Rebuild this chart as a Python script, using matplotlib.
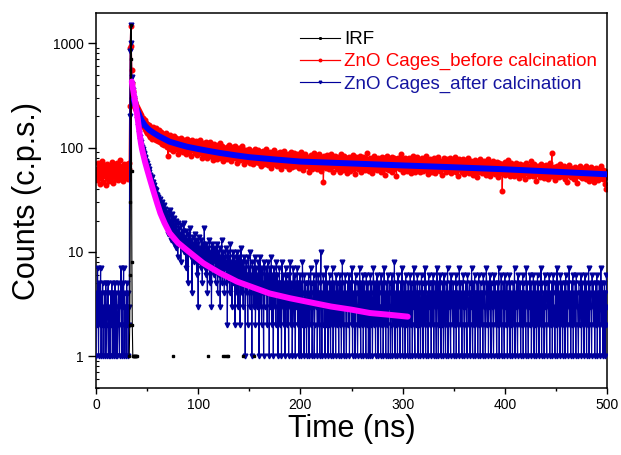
import numpy as np
import matplotlib
matplotlib.use('Agg')
import matplotlib.pyplot as plt
from matplotlib.ticker import LogLocator, FixedLocator, NullFormatter

plt.rcParams['font.family'] = ['Liberation Sans', 'DejaVu Sans']

# ---------------- data ----------------
channel_ns = 0.5  # time per channel (ns), channels start at 0 ns

red_counts = [
    58, 49, 63, 54, 71, 52, 60, 45, 66, 57, 51, 74, 55, 62, 47, 59, 68, 53, 61, 44,
    64, 56, 70, 50, 58, 63, 48, 67, 55, 60, 52, 73, 57, 46, 62, 69, 54, 59, 65, 50,
    61, 56, 72, 49, 58, 64, 53, 76, 57, 51, 60, 67, 48, 63, 55, 70, 58, 52, 66, 61,
    54, 69, 57, 50, 63, 71,
    250, 900, 1450, 950, 560, 420, 350, 310,
    300, 262, 275, 240, 258, 229, 246, 218, 236, 204, 225, 190, 214, 198, 176, 205, 170, 192, 163, 181,
    158, 184, 150, 171, 143, 168, 139, 160, 152, 131, 166, 140, 127, 155, 144, 122, 150, 135, 158, 126,
    146, 121, 139, 154, 118, 133, 142, 115, 137, 127, 149, 112, 131, 120, 141, 108, 128, 136, 117, 133,
    105, 130, 119, 138, 102, 125, 114, 84, 122, 109, 131, 97, 117, 126, 104, 120, 92, 115, 128, 101,
    118, 96, 110, 124, 99, 113, 87, 107, 121, 102, 115, 93, 109, 125, 98, 112, 104, 90, 117, 106,
    95, 114, 101, 86, 110, 120, 97, 105, 91, 116, 100, 108, 83, 103, 119, 94, 107, 98, 112, 88,
    104, 92, 115, 99, 85, 108, 96, 111, 89, 101, 118, 93, 105, 80, 99, 110, 91, 103, 86, 107,
    97, 112, 88, 102, 79, 95, 108, 90, 100, 84, 114, 93, 98, 87, 105, 76, 96, 109, 89, 99,
    83, 102, 94, 78, 107, 89, 97, 85, 111, 91, 80, 99, 87, 104, 75, 93, 100, 86, 95, 82,
    98, 90, 77, 102, 88, 94, 81, 106, 85, 92, 74, 97, 89, 83, 101, 79, 93, 87, 104, 80,
    91, 84, 72, 96, 86, 79, 99, 88, 76, 93, 82, 103, 78, 90, 85, 70, 94, 81, 89, 77,
    95, 83, 74, 90, 86, 79, 98, 72, 88, 81, 93, 76, 85, 69, 91, 84, 78, 96, 80, 87,
    73, 89, 82, 77, 94, 71, 86, 80, 66, 90, 79, 84, 75, 92, 81, 70, 88, 76, 83, 97,
    74, 85, 68, 80, 89, 77, 72, 91, 64, 83, 79, 87, 73, 81, 69, 94, 76, 82, 71, 86,
    78, 67, 88, 74, 83, 70, 90, 76, 63, 81, 85, 72, 79, 68, 92, 75, 80, 66, 84, 77,
    71, 87, 73, 62, 82, 78, 69, 90, 74, 80, 65, 85, 76, 72, 89, 67, 79, 83, 70, 77,
    86, 68, 75, 81, 64, 78, 72, 91, 69, 76, 83, 61, 74, 79, 70, 87, 66, 77, 73, 82,
    67, 80, 75, 58, 78, 71, 85, 69, 76, 63, 82, 73, 88, 66, 74, 79, 70, 84, 62, 77,
    73, 68, 86, 71, 65, 79, 75, 60, 81, 70, 77, 47, 74, 83, 67, 72, 78, 64, 85, 69,
    76, 62, 80, 72, 68, 87, 65, 74, 79, 59, 73, 82, 70, 66, 84, 71, 77, 63, 75, 69,
    81, 67, 74, 58, 78, 72, 86, 64, 71, 76, 61, 83, 69, 75, 66, 80, 73, 57, 77, 70,
    65, 82, 71, 76, 60, 73, 79, 67, 85, 63, 74, 70, 78, 56, 72, 81, 68, 75, 62, 80,
    71, 66, 84, 69, 74, 59, 77, 72, 63, 82, 70, 75, 61, 79, 67, 73, 88, 64, 71, 76,
    60, 74, 69, 80, 65, 72, 57, 78, 68, 75, 63, 83, 70, 66, 76, 61, 73, 79, 67, 71,
    77, 62, 70, 74, 58, 81, 67, 72, 64, 79, 69, 55, 75, 71, 66, 84, 63, 73, 68, 78,
    61, 72, 76, 65, 70, 82, 59, 74, 68, 63, 79, 71, 66, 77, 54, 73, 69, 80, 64, 72,
    75, 62, 68, 86, 66, 71, 58, 77, 69, 73, 63, 80, 67, 72, 60, 76, 65, 70, 79, 61,
    71, 67, 74, 57, 78, 64, 69, 83, 62, 73, 68, 59, 76, 70, 65, 81, 63, 72, 66, 75,
    58, 71, 68, 79, 64, 74, 60, 69, 77, 62, 72, 66, 84, 61, 70, 56, 75, 67, 73, 63,
    78, 65, 70, 59, 74, 68, 62, 80, 66, 71, 57, 76, 64, 69, 73, 61, 82, 67, 63, 72,
    60, 75, 66, 70, 55, 73, 64, 79, 68, 62, 71, 58, 77, 65, 69, 74, 61, 67, 80, 63,
    70, 57, 72, 66, 76, 60, 68, 63, 81, 65, 59, 71, 67, 74, 54, 69, 62, 78, 64, 70,
    66, 73, 58, 68, 62, 77, 65, 56, 71, 67, 60, 75, 63, 69, 79, 57, 66, 72, 61, 68,
    74, 59, 65, 70, 55, 67, 63, 76, 60, 69, 64, 52, 71, 66, 58, 73, 62, 68, 78, 61,
    65, 70, 57, 67, 63, 74, 59, 66, 61, 72, 55, 68, 64, 77, 60, 65, 69, 53, 71, 63,
    58, 67, 62, 75, 60, 66, 56, 70, 64, 59, 73, 61, 68, 52, 65, 71, 57, 63, 69, 60,
    66, 38, 64, 70, 58, 62, 73, 55, 67, 61, 57, 69, 63, 76, 59, 65, 54, 68, 62, 71,
    56, 64, 60, 67, 53, 66, 62, 72, 58, 63, 69, 55, 61, 65, 51, 70, 59, 64, 57, 67,
    62, 55, 68, 60, 64, 50, 66, 58, 71, 61, 57, 63, 67, 54, 60, 65, 59, 74, 56, 62,
    66, 53, 61, 57, 69, 59, 63, 48, 64, 60, 56, 67, 58, 62, 52, 65, 61, 70, 55, 59,
    63, 57, 66, 51, 60, 64, 55, 68, 58, 62, 50, 61, 65, 56, 72, 59, 53, 63, 88, 57,
    60, 54, 65, 58, 62, 49, 61, 57, 67, 55, 59, 64, 52, 60, 56, 70, 58, 53, 63, 57,
    61, 54, 66, 50, 59, 63, 56, 60, 47, 62, 58, 55, 68, 57, 61, 52, 64, 56, 59, 53,
    62, 57, 50, 60, 65, 55, 58, 46, 61, 56, 63, 53, 59, 67, 54, 57, 60, 51, 64, 56,
    52, 59, 62, 55, 66, 50, 58, 61, 54, 57, 48, 63, 56, 60, 53, 65, 57, 51, 59, 62,
    55, 47, 61, 57, 64, 52, 58, 54, 60, 49, 62, 56, 53, 59, 66, 51, 57, 55, 61, 50,
    58, 54, 45, 60, 40, 56, 52,
]

blue_counts = [
    1, 4, 2, 7, 3, 1, 5, 2, 3, 7, 1, 4, 2, 5, 1, 3, 2, 4, 1, 5,
    3, 1, 2, 4, 5, 1, 3, 2, 1, 4, 2, 5, 1, 3, 4, 1, 2, 5, 3, 1,
    4, 2, 1, 3, 5, 2, 1, 4, 3, 7, 2, 1, 5, 3, 7, 1, 4, 2, 3, 1,
    5, 2, 4, 1, 3, 2,
    200, 850, 1500, 1000, 470, 410, 360, 330,
    300, 285, 255, 262, 230, 222, 205, 190, 175, 160, 150, 138, 126, 118, 112, 105, 102, 96, 92, 88,
    86, 80, 82, 74, 70, 72, 64, 66, 60, 58, 62, 53, 55, 50, 48, 52, 45, 47, 43, 41,
    44, 38, 40, 36, 39, 33, 35, 31, 34, 30, 28, 32, 26, 29, 24, 30, 27, 22, 25, 28,
    23, 19, 26, 21, 17, 24, 20, 15, 22, 18, 25, 16, 20, 13, 19, 23, 14, 17, 21, 12,
    18, 15, 11, 20, 14, 16, 9, 19, 13, 17, 12, 15, 8, 18, 14, 11, 16, 13, 19, 10,
    14, 12, 7, 16, 11, 13, 5, 15, 10, 12, 17, 9, 13, 11, 4, 14, 10, 12, 8, 15,
    11, 9, 13, 6, 12, 10, 3, 14, 8, 11, 10, 7, 13, 9, 5, 12, 8, 11, 17, 7,
    10, 6, 12, 8, 4, 11, 9, 7, 13, 5, 10, 8, 3, 12, 7, 9, 6, 11, 8, 10,
    5, 9, 7, 12, 4, 10, 8, 6, 11, 3, 9, 7, 13, 5, 8, 10, 6, 4, 9, 7,
    11, 5, 8, 2, 10, 7, 6, 9, 4, 12, 6, 8, 3, 7, 10, 5, 9, 6, 2, 8,
    7, 4, 10, 6, 3, 9, 5, 8, 2, 7, 11, 4, 6, 8, 3, 9, 5, 7, 1, 6,
    8, 4, 6, 2, 9, 5, 7, 3, 10, 4, 6, 1, 8, 5, 7, 3, 6, 9, 2, 5,
    7, 3, 6, 4, 8, 1, 5, 9, 3, 6, 2, 7, 4, 5, 1, 8, 3, 6, 4, 7,
    5, 2, 8, 4, 6, 1, 7, 3, 5, 9, 2, 6, 4, 1, 7, 5, 3, 6, 2, 8,
    4, 6, 1, 5, 3, 7, 2, 5, 4, 1, 8, 3, 6, 2, 4, 5, 1, 7, 3, 6,
    2, 5, 4, 1, 6, 3, 8, 2, 4, 5, 1, 3, 7, 4, 2, 6, 1, 5, 3, 4,
    7, 2, 5, 1, 4, 6, 3, 1, 5, 2, 8, 4, 3, 1, 6, 2, 5, 4, 1, 3,
    5, 2, 6, 1, 4, 3, 7, 2, 5, 1, 3, 4, 6, 1, 2, 5, 3, 8, 4, 1,
    3, 6, 2, 4, 1, 5, 10, 3, 1, 4, 2, 6, 3, 5, 1, 4, 7, 2, 3, 5,
    1, 4, 2, 6, 3, 1, 5, 2, 4, 7, 1, 3, 5, 2, 4, 1, 6, 3, 2, 5,
    3, 1, 4, 6, 2, 5, 1, 3, 8, 2, 4, 1, 5, 3, 6, 2, 1, 4, 3, 5,
    2, 6, 1, 4, 3, 5, 2, 7, 1, 4, 3, 2, 5, 1, 6, 3, 4, 2, 1, 5,
    4, 2, 7, 3, 1, 5, 2, 4, 6, 1, 3, 5, 2, 4, 1, 6, 3, 2, 5, 1,
    3, 4, 1, 6, 2, 5, 3, 1, 4, 7, 2, 3, 5, 1, 4, 2, 6, 3, 1, 4,
    5, 2, 3, 1, 6, 4, 2, 5, 1, 3, 7, 2, 4, 1, 5, 3, 2, 6, 1, 4,
    3, 5, 1, 2, 4, 6, 1, 3, 5, 2, 8, 1, 4, 3, 2, 5, 1, 6, 3, 2,
    4, 1, 5, 3, 2, 7, 1, 4, 2, 5, 3, 1, 6, 2, 4, 3, 1, 5, 2, 4,
    1, 6, 3, 2, 5, 1, 4, 3, 7, 2, 1, 5, 4, 2, 3, 6, 1, 4, 2, 5,
    3, 1, 4, 6, 2, 5, 1, 3, 4, 2, 7, 1, 5, 3, 2, 4, 1, 6, 3, 5,
    2, 4, 1, 5, 3, 2, 6, 1, 4, 3, 5, 2, 1, 7, 4, 3, 1, 5, 2, 6,
    3, 1, 4, 2, 5, 3, 1, 6, 2, 4, 1, 5, 3, 2, 7, 1, 4, 3, 5, 2,
    1, 6, 3, 4, 2, 5, 1, 3, 4, 2, 6, 1, 5, 3, 2, 4, 1, 7, 3, 5,
    2, 4, 1, 5, 3, 6, 2, 1, 4, 3, 5, 2, 1, 6, 4, 3, 2, 5, 1, 4,
    3, 7, 2, 1, 5, 4, 2, 6, 1, 3, 4, 2, 5, 1, 3, 6, 2, 4, 1, 5,
    3, 2, 4, 1, 6, 3, 5, 2, 1, 4, 7, 3, 2, 5, 1, 4, 3, 6, 2, 1,
    5, 3, 4, 2, 1, 6, 3, 5, 2, 4, 1, 3, 5, 2, 7, 1, 4, 3, 2, 6,
    1, 4, 3, 5, 2, 1, 6, 3, 4, 2, 5, 1, 3, 4, 2, 6, 1, 5, 3, 2,
    4, 1, 5, 3, 2, 7, 1, 4, 3, 5, 2, 1, 6, 3, 4, 2, 5, 1, 3, 4,
    2, 6, 1, 5, 3, 2, 4, 1, 7, 3, 5, 2, 1, 4, 3, 6, 2, 5, 1, 3,
    4, 2, 6, 1, 3, 5, 2, 4, 1, 3, 6, 2, 5, 1, 4, 3, 2, 7, 1, 5,
    3, 2, 4, 1, 6, 3, 5, 2, 1, 4, 3, 5, 2, 6, 1, 4, 3, 2, 5, 1,
    4, 6, 2, 3, 1, 5, 4, 2, 7, 1, 3, 5, 2, 4, 1, 6, 3, 2, 5, 1,
    3, 4, 2, 5, 1, 6, 3, 2, 4, 1, 5, 3, 7, 2, 4, 1, 3, 5, 2, 6,
    1, 4, 3, 2, 5, 1, 6, 3, 4, 2, 1, 5, 3, 2, 4, 6, 1, 3, 5, 2,
    4, 1, 3, 6, 2, 5, 1, 4, 3, 2, 7, 1, 5, 3, 4, 2, 1, 6, 3, 5,
    2, 4, 1, 3, 5, 2, 6, 1, 4, 3, 2, 5, 1, 4, 7, 3, 2, 5, 1, 4,
    3, 5, 1, 4, 2, 6, 3,
]

# IRF: only non-zero channels (None = empty channel -> gap in the line)
irf_time = [32.5, 33.0, 33.3, 33.6, 33.9, 34.2, 34.5, 34.8, 35.1, 35.5, 36.0,
            36.5, 37.0, 37.5, 38.0, 38.5, 39.0, 39.5, 40.0, 40.5,
            75.0, 75.5, 110.0, 110.5, 124.0, 124.5, 126.0, 126.5, 128.0, 128.5,
            129.5, 130.0, 144.0, 144.5, 155.0, 155.5]
irf_counts = [1, 2, 6, 30, 300, 1500, 700, 60, 8, 2, 1,
              1, 1, 1, 1, 1, 1, 1, 1, None,
              1, None, 1, None, 1, None, 1, None, 1, None,
              1, None, 1, None, 1, None]

# fitted decays
red_fit_time = [37, 38, 39, 40, 41, 42, 43, 45, 48, 52, 56, 62, 72, 80, 89, 100,
                110, 121, 138, 150, 175, 200, 250, 300, 350, 400, 450, 500]
red_fit_counts = [290, 262, 245, 232, 220, 208, 196, 180, 162, 148, 139, 128, 114,
                  108, 102, 97, 93, 89, 84, 81, 77, 73.5, 70.5, 67.5, 64.8, 62,
                  58.7, 55.5]

blue_fit_time = [35, 36, 37, 38, 39, 40, 41, 42, 43, 44, 45, 46, 48, 50, 53, 56,
                 60, 63, 67, 72, 80, 89, 97, 105, 113, 121, 130, 138, 153, 170,
                 190, 209, 230, 250, 268, 287, 305]
blue_fit_counts = [430, 375, 325, 283, 247, 215, 183, 153, 128, 110, 97, 88, 73,
                   62, 49, 39, 29, 23.5, 19, 15.2, 12.3, 10.4, 9.0, 7.8, 7.0, 6.3,
                   5.7, 5.2, 4.6, 4.0, 3.6, 3.3, 3.0, 2.8, 2.6, 2.5, 2.4]

x_ticks = [0, 100, 200, 300, 400, 500]
y_ticks = [1, 10, 100, 1000]
y_tick_labels = ['1', '10', '100', '1000']

legend_labels = ['IRF', 'ZnO Cages_before calcination', 'ZnO Cages_after calcination']

# ---------------- plotting ----------------
red_c = '#ff0000'
navy_c = '#00009c'

fig = plt.figure(figsize=(6.21, 4.55), dpi=100)
ax = fig.add_axes([96 / 621, 1 - 388 / 455, (607 - 96) / 621, (388 - 13) / 455])

red_y = np.array(red_counts, dtype=float)
red_t = np.arange(len(red_y)) * channel_ns
blue_y = np.array(blue_counts, dtype=float)
blue_t = np.arange(len(blue_y)) * channel_ns
irf_y = np.array(irf_counts, dtype=float)
irf_t = np.array(irf_time, dtype=float)

l_red, = ax.plot(red_t, red_y, color=red_c, lw=0.9, marker='o', ms=3.3,
                 mec=red_c, mfc=red_c, zorder=2)
l_blue, = ax.plot(blue_t, blue_y, color=navy_c, lw=0.85, marker='v', ms=3.4,
                  mec=navy_c, mfc=navy_c, zorder=3)
l_irf, = ax.plot(irf_t, irf_y, color='black', lw=0.8, marker='s', ms=2.0,
                 mec='black', mfc='black', zorder=4)

ax.plot(red_fit_time, red_fit_counts, color='#0000ff', lw=4.3,
        solid_capstyle='round', zorder=5)
ax.plot(blue_fit_time, blue_fit_counts, color='#ff00ff', lw=4.3,
        solid_capstyle='round', zorder=5)

ax.set_yscale('log')
ax.set_xlim(0, 500)
ax.set_ylim(0.497, 1950)

ax.set_xticks(x_ticks)
ax.set_xticklabels([str(v) for v in x_ticks])
ax.xaxis.set_minor_locator(FixedLocator([50, 150, 250, 350, 450]))
ax.set_yticks(y_ticks)
ax.set_yticklabels(y_tick_labels)
ax.yaxis.set_minor_locator(LogLocator(base=10, subs=np.arange(2, 10)))
ax.yaxis.set_minor_formatter(NullFormatter())

ax.tick_params(axis='both', which='major', direction='out', labelsize=10,
               width=1.0, top=False, right=False)
ax.tick_params(axis='x', which='major', length=4.5, pad=3)
ax.tick_params(axis='y', which='major', length=6, pad=3)
ax.tick_params(axis='x', which='minor', direction='out', length=2.5, width=1.0,
               top=False)
ax.tick_params(axis='y', which='minor', direction='in', length=2.2, width=0.8,
               right=False)
for s in ax.spines.values():
    s.set_linewidth(1.1)

ax.set_xlabel('Time (ns)', fontsize=22, labelpad=1)
ax.set_ylabel('Counts (c.p.s.)', fontsize=22, labelpad=8)

leg = ax.legend([l_irf, l_red, l_blue], legend_labels, loc='upper left',
                bbox_to_anchor=(300 / 621, 1 - 31 / 455),
                bbox_transform=fig.transFigure, frameon=False, fontsize=13.5,
                numpoints=1, markerscale=0.55, handlelength=2.15,
                handletextpad=0.2, labelspacing=0.27, borderpad=0,
                borderaxespad=0)
for txt, c in zip(leg.get_texts(), ['black', red_c, '#1414a0']):
    txt.set_color(c)

fig.savefig('out.png', dpi=100)
